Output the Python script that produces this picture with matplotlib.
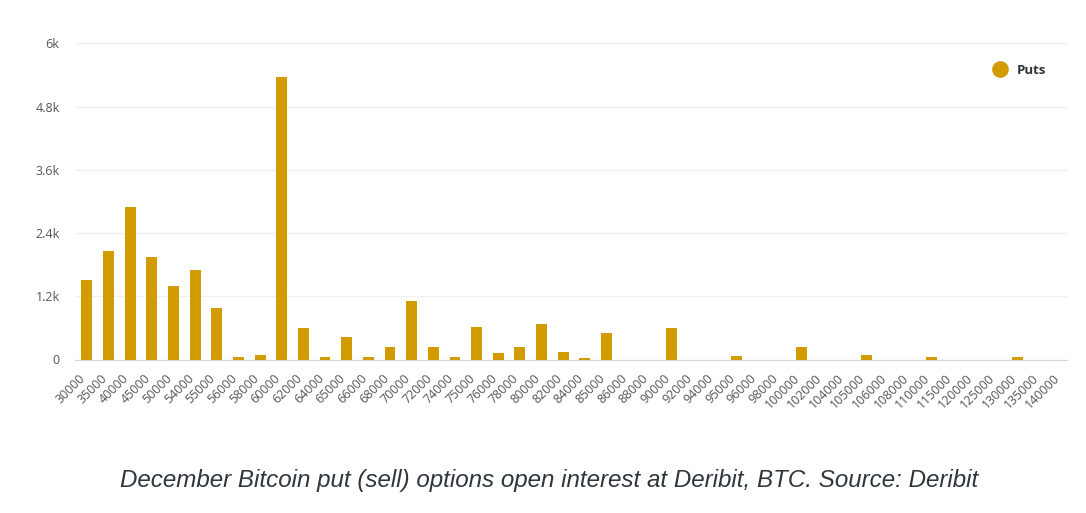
import matplotlib.pyplot as plt
from matplotlib.lines import Line2D
from matplotlib.transforms import ScaledTranslation

# --- Data: December BTC put open interest by strike ---
strikes = ["30000", "35000", "40000", "45000", "50000", "54000", "55000", "56000",
           "58000", "60000", "62000", "64000", "65000", "66000", "68000", "70000",
           "72000", "74000", "75000", "76000", "78000", "80000", "82000", "84000",
           "85000", "86000", "88000", "90000", "92000", "94000", "95000", "96000",
           "98000", "100000", "102000", "104000", "105000", "106000", "108000",
           "110000", "115000", "120000", "125000", "130000", "135000", "140000"]
puts = [1515, 2060, 2900, 1950, 1390, 1700, 975, 50,
        90, 5370, 590, 50, 420, 50, 235, 1105,
        235, 45, 610, 115, 230, 670, 150, 25,
        505, 0, 0, 590, 0, 0, 70, 0,
        0, 230, 0, 0, 90, 0, 0,
        50, 0, 0, 0, 50, 0, 0]
y_ticks = [0, 1200, 2400, 3600, 4800, 6000]
y_labels = ["0", "1.2k", "2.4k", "3.6k", "4.8k", "6k"]

bar_color = "#D29C00"
text_color = "#555555"

plt.rcParams["font.family"] = ["Open Sans", "DejaVu Sans"]

fig = plt.figure(figsize=(10.86, 5.13), dpi=100)
ax = fig.add_axes([75 / 1086, 1 - 359.5 / 513, (1067 - 75) / 1086, (359.5 - 43.3) / 513])

x = list(range(len(strikes)))
ax.bar(x, puts, width=0.5, color=bar_color, zorder=3)

ax.set_xlim(-0.55, len(strikes) - 0.73)
ax.set_ylim(0, 6000)
ax.set_yticks(y_ticks)
ax.set_yticklabels(y_labels)
ax.set_xticks(x)

# styling: faint grid, grey baseline, no spines
ax.grid(axis="y", color="#f0f0f0", linewidth=1, zorder=0)
for side in ["top", "right", "left"]:
    ax.spines[side].set_visible(False)
ax.spines["bottom"].set_color("#d6d6d6")
ax.tick_params(axis="both", length=0, labelsize=9, labelcolor=text_color)
ax.tick_params(axis="x", pad=9)
ax.tick_params(axis="y", pad=11)

ax.set_xticklabels(strikes, rotation=45, ha="right", rotation_mode="anchor")
# nudge the rotated strike labels left so they end under the bar
shift = ScaledTranslation(-8 / 100, 0, fig.dpi_scale_trans)
for lbl in ax.get_xticklabels():
    lbl.set_transform(lbl.get_transform() + shift)

# legend
handle = Line2D([], [], marker="o", linestyle="", color=bar_color, markersize=11)
ax.legend([handle], ["Puts"], loc="center left", bbox_to_anchor=(975 / 1086, 1 - 70 / 513),
          bbox_transform=fig.transFigure, frameon=False, handletextpad=0.3,
          prop={"weight": "bold", "size": 9.5}, labelcolor="#333333")

# caption
fig.text(0.506, 1 - 480 / 513, "December Bitcoin put (sell) options open interest at Deribit, BTC. Source: Deribit",
         ha="center", va="center", fontsize=17.4, style="italic", color="#2f363d",
         family="Liberation Sans")

fig.savefig("out.png", dpi=100, facecolor="white")
